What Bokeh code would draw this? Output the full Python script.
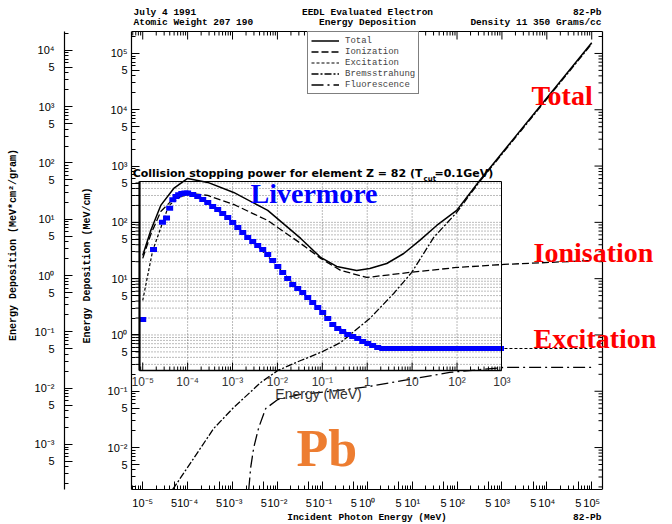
import numpy as np
from bokeh.plotting import figure
from bokeh.models import (Range1d, LogAxis, LogScale, FixedTicker, CustomJSTickFormatter,
                          Label, Legend, LegendItem)
from bokeh.core.properties import value
from bokeh.embed import file_html
from bokeh.resources import INLINE

# ---------------- data (energy in MeV, energy deposition in MeV/cm) ----------------
total_e = [1.0e-5, 1.51e-5, 2.52e-5, 4.9e-5, 1.0e-4, 2.81e-4, 1.06e-3, 6.08e-3, 3.3e-2, 9.2e-2,
           0.209, 0.583, 1.14, 2.72, 6.5, 14.8, 35.3, 98.4, 320, 1.0e5]
total_v = [25.8, 71.8, 200, 400, 603, 512, 340, 163, 51.8, 23.8,
           16.5, 14.0, 15.2, 18.6, 28.0, 47.8, 88.1, 163, 555, 1.55e5]

ion_e = [1.0e-5, 1.51e-5, 2.52e-5, 4.9e-5, 1.17e-4, 2.81e-4, 1.06e-3, 6.08e-3, 3.3e-2, 9.2e-2,
         0.257, 0.975, 8.85, 98.4, 1.1e3, 1.0e5]
ion_v = [22.9, 61.0, 156, 266, 326, 301, 208, 108, 42.2, 22.9,
         14.0, 10.5, 12.9, 15.8, 17.9, 21.0]

exc_e = [1.0e-5, 1.29e-5, 1.67e-5, 2.79e-5, 3.79e-5, 7.02e-5, 1.17e-4, 3.27e-4, 9.1e-4, 2.97e-3,
         8.3e-3, 2.83e-2, 7.9e-2, 0.18, 0.58, 1.2, 2.58, 940, 1.0e5]
exc_v = [4.10, 11.4, 31.7, 100, 200, 288, 313, 200, 108, 44,
         19.4, 6.7, 3.08, 1.48, 0.90, 0.65, 0.575, 0.575, 0.575]

brem_e = [4.66e-5, 3.81e-4, 1.06e-3, 4.25e-3, 1.02e-2, 3.3e-2, 9.2e-2, 0.257, 1.14, 3.89,
          9.8, 30.3, 98.4, 320, 1.0e5]
brem_v = [1.8e-3, 2.18e-2, 5.15e-2, 0.143, 0.234, 0.352, 0.489, 0.736, 1.96, 5.46,
          12.9, 54.0, 150, 532, 1.48e5]

fluor_e = [2.3e-3, 2.54e-3, 2.97e-3, 3.84e-3, 5.49e-3, 1.02e-2, 3.3e-2, 0.209, 1.14, 6.5,
           68.7, 1.1e3, 1.0e5]
fluor_v = [1.8e-3, 4.44e-3, 1.0e-2, 2.28e-2, 4.94e-2, 7.14e-2, 8.77e-2, 0.103, 0.122, 0.156,
           0.216, 0.265, 0.265]

# Livermore collision stopping power points (inset, blue)
liv_e = [1.0e-5, 1.74e-5, 2.75e-5, 3.39e-5, 3.98e-5, 4.68e-5, 5.5e-5, 6.31e-5, 7.41e-5, 8.71e-5,
         1.0e-4, 1.3e-4, 1.68e-4, 2.17e-4, 2.81e-4, 3.62e-4, 4.68e-4, 6.05e-4, 7.82e-4, 1.01e-3,
         1.31e-3, 1.69e-3, 2.18e-3, 2.82e-3, 3.64e-3, 4.71e-3, 6.08e-3, 7.85e-3, 1.02e-2, 1.31e-2,
         1.69e-2, 2.19e-2, 2.83e-2, 3.66e-2, 4.73e-2, 6.11e-2, 7.91e-2, 0.102, 0.132, 0.171,
         0.22, 0.284, 0.368, 0.475, 0.614, 0.794, 1.03, 1.32, 1.71, 2.21,
         2.8, 3.6, 4.6, 5.9, 7.6, 9.8, 12.6, 16.2, 20.9, 27,
         34.7, 44.7, 57.5, 74, 95, 122, 158, 203, 262, 337,
         434, 560, 720, 930]
liv_v = [1.88, 33, 100, 120, 178, 251, 288, 309, 324, 331,
         331, 313, 288, 255, 225, 191, 169, 144, 122, 99.5,
         81.1, 66.2, 54.0, 45.8, 38.9, 33.0, 26.9, 21.0, 16.5, 12.9,
         10.1, 7.89, 6.70, 5.69, 4.63, 3.78, 3.08, 2.51, 1.96, 1.54,
         1.30, 1.15, 1.02, 0.94, 0.867, 0.767, 0.706, 0.650, 0.600, 0.575,
         0.575, 0.575, 0.575, 0.575, 0.575, 0.575, 0.575, 0.575, 0.575, 0.575,
         0.575, 0.575, 0.575, 0.575, 0.575, 0.575, 0.575, 0.575, 0.575, 0.575,
         0.575, 0.575, 0.575, 0.575]

legend_labels = ["Total", "Ionization", "Excitation", "Bremsstrahung", "Fluorescence"]
inset_xtick_vals = [1e-5, 1e-4, 1e-3, 1e-2, 1e-1, 1, 10, 100, 1000]
inset_xtick_labels = ["10\u207b\u2075", "10\u207b\u2074", "10\u207b\u00b3", "10\u207b\u00b2",
                      "10\u207b\u00b9", "1", "10", "10\u00b2", "10\u00b3"]
DENSITY = 11.35  # g/cm3 -> outer axis in MeV*cm2/gram

# ---------------- layout geometry ----------------
W, H = 672, 524
FL, FR, FT, FB = 131, 602, 31, 489          # drawn main-plot box (pixels)
XL = (-5.25, 5.24)                          # log10 limits of the drawn box
YL = (-2.745, 5.39)
DXP = (XL[1] - XL[0]) / (FR - FL)
DYP = (YL[1] - YL[0]) / (FB - FT)
X_END = XL[0] + (W - FL) * DXP              # bokeh frame spans to the canvas right/top edge
Y_END = YL[1] + FT * DYP


def px2x(px):
    return 10 ** (XL[0] + (px - FL) * DXP)


def py2y(py):
    return 10 ** (YL[1] - (py - FT) * DYP)


p = figure(width=W, height=H, x_axis_type="log", y_axis_type="log",
           x_range=Range1d(10 ** XL[0], 10 ** X_END), y_range=Range1d(10 ** YL[0], 10 ** Y_END),
           output_backend="svg", toolbar_location=None,
           min_border_left=FL, min_border_right=0, min_border_top=0, min_border_bottom=H - FB)
p.xgrid.visible = False
p.ygrid.visible = False
p.outline_line_color = None
p.background_fill_color = "white"
p.border_fill_color = "white"


def log_ticks(lo, hi):
    major, allt = [], []
    for n in range(-9, 10):
        for k in range(1, 10):
            v = k * 10.0 ** n
            if lo * (1 - 1e-9) <= v <= hi * (1 + 1e-9):
                if k in (1, 5):
                    major.append(v)
                allt.append(v)
    return major, allt


FMT_CODE = """
const sup = {"-":"\u207b","0":"\u2070","1":"\u00b9","2":"\u00b2","3":"\u00b3","4":"\u2074",
             "5":"\u2075","6":"\u2076","7":"\u2077","8":"\u2078","9":"\u2079"};
const lg = Math.log10(tick);
const e = Math.round(lg);
if (Math.abs(lg - e) < 1e-6) {
  return "10" + String(e).split("").map((c) => sup[c]).join("");
}
return String(Math.round(tick / Math.pow(10, Math.floor(lg + 1e-9))));
"""


def style_axis(ax):
    ax.axis_line_color = "black"
    ax.axis_line_width = 1.2
    ax.major_tick_in = 8
    ax.major_tick_out = 0
    ax.minor_tick_in = 4
    ax.minor_tick_out = 0
    ax.major_tick_line_color = "black"
    ax.minor_tick_line_color = "black"
    ax.major_label_text_font = "Liberation Sans"
    ax.major_label_text_font_size = "11px"
    ax.major_label_text_color = "black"
    ax.axis_label_text_font = "Liberation Mono"
    ax.axis_label_text_font_style = "bold"
    ax.axis_label_text_font_size = "10px"
    ax.axis_label_text_color = "black"


xmaj, xall = log_ticks(10 ** XL[0], 10 ** XL[1])
ymaj, yall = log_ticks(10 ** YL[0], 10 ** YL[1])
omaj, oall = log_ticks(10 ** YL[0] / DENSITY, 10 ** YL[1] / DENSITY)

# bottom axis
bx = p.xaxis[0]
bx.ticker = FixedTicker(ticks=xmaj, minor_ticks=xall)
bx.formatter = CustomJSTickFormatter(code=FMT_CODE)
style_axis(bx)
bx.bounds = (10 ** XL[0], 10 ** XL[1])
bx.major_label_standoff = 7

# inner left axis
ly = p.yaxis[0]
ly.ticker = FixedTicker(ticks=ymaj, minor_ticks=yall)
ly.formatter = CustomJSTickFormatter(code=FMT_CODE)
style_axis(ly)
ly.bounds = (10 ** YL[0], 10 ** YL[1])
ly.major_label_standoff = 4

# labels living in the left side panel (between the two left axes)
p.add_layout(Label(x=px2x(87), y=py2y(265), text="Energy Deposition (MeV/cm)",
                   text_font="Liberation Mono", text_font_size="10px", text_font_style="bold",
                   text_color="black", text_align="center", text_baseline="middle",
                   angle=np.pi / 2), "left")
p.add_layout(Label(x=px2x(601), y=py2y(517), text="82-Pb", text_font="Liberation Mono",
                   text_font_size="9.5px", text_font_style="bold", text_color="black",
                   text_align="right", text_baseline="middle"), "left")

# outer left axis (MeV*cm2/gram)
p.extra_y_ranges = {"outer": Range1d(10 ** YL[0] / DENSITY, 10 ** Y_END / DENSITY)}
p.extra_y_scales = {"outer": LogScale()}
oy = LogAxis(y_range_name="outer", ticker=FixedTicker(ticks=omaj, minor_ticks=oall),
             formatter=CustomJSTickFormatter(code=FMT_CODE))
style_axis(oy)
oy.bounds = (10 ** YL[0] / DENSITY, 10 ** YL[1] / DENSITY)
oy.major_label_standoff = 10
oy.axis_label = "Energy Deposition (MeV*cm\u00b2/gram)"
oy.axis_label_standoff = 13
p.add_layout(oy, "left")

# x axis title as a label in the bottom panel
p.add_layout(Label(x=px2x(366.5), y=py2y(517), text="Incident Photon Energy (MeV)",
                   text_font="Liberation Mono", text_font_size="9.5px", text_font_style="bold",
                   text_color="black", text_align="center", text_baseline="middle"), "below")

# top and right edges of the drawn box, with inward ticks
X0, X1 = 10 ** XL[0], 10 ** XL[1]
Y0, Y1 = 10 ** YL[0], 10 ** YL[1]
p.segment(x0=[X0, X1], x1=[X1, X1], y0=[Y1, Y0], y1=[Y1, Y1], line_color="black", line_width=1.2)


def tick_len(v, big=8, small=4):
    lg = np.log10(v)
    return big if abs(lg - round(lg)) < 1e-6 else small


tx_len = [tick_len(v) for v in xall]
p.segment(x0=xall, x1=xall, y0=[Y1] * len(xall), y1=[Y1 / 10 ** (L * DYP) for L in tx_len],
          line_color="black", line_width=1)
ty_len = [tick_len(v) for v in yall]
p.segment(x0=[X1] * len(yall), x1=[X1 / 10 ** (L * DXP) for L in ty_len], y0=yall, y1=yall,
          line_color="black", line_width=1)

# ---------------- inset (collision stopping power) ----------------
IN_L, IN_R = px2x(139), px2x(501)
IN_T, IN_B = py2y(181), py2y(370)
_, grid_y = log_ticks(IN_B, IN_T)
grid_x = [v for v in inset_xtick_vals[1:-1]]
p.segment(x0=[IN_L] * len(grid_y), x1=[IN_R] * len(grid_y), y0=grid_y, y1=grid_y,
          line_color="#555555", line_width=0.8, line_dash="1 2")
p.segment(x0=grid_x, x1=grid_x, y0=[IN_B] * len(grid_x), y1=[IN_T] * len(grid_x),
          line_color="#555555", line_width=0.8, line_dash="1 2")

# ---------------- main curves ----------------
r_tot = p.line(total_e, total_v, line_color="black", line_width=1.5)
r_ion = p.line(ion_e, ion_v, line_color="black", line_width=1.3, line_dash="7 3")
r_exc = p.line(exc_e, exc_v, line_color="black", line_width=1.2, line_dash="3 2")
r_brem = p.line(brem_e, brem_v, line_color="black", line_width=1.3, line_dash="7 2 2 2")
r_fl = p.line(fluor_e, fluor_v, line_color="black", line_width=1.3, line_dash="12 4 2 4")

# Livermore points
p.rect(x=liv_e, y=liv_v, width=7, height=5, width_units="screen", height_units="screen",
       fill_color="#0000ff", line_color=None)

# inset frame and ticks
p.quad(left=[IN_L], right=[IN_R], bottom=[IN_B], top=[IN_T], fill_color=None,
       line_color="black", line_width=1)
p.segment(x0=[IN_L], x1=[IN_L], y0=[IN_B], y1=[IN_T], line_color="black", line_width=2.2)
p.segment(x0=[IN_L], x1=[IN_R], y0=[IN_B], y1=[IN_B], line_color="black", line_width=1.6)
_, ix_all = log_ticks(IN_L, IN_R)
ix_len = [tick_len(v) for v in ix_all]
p.segment(x0=ix_all, x1=ix_all, y0=[IN_B] * len(ix_all),
          y1=[IN_B * 10 ** (L * DYP) for L in ix_len], line_color="black", line_width=1)
_, iy_all = log_ticks(IN_B, IN_T)
iy_len = [tick_len(v) for v in iy_all]
p.segment(x0=[IN_L] * len(iy_all), x1=[IN_L / 10 ** (L * DXP) for L in iy_len], y0=iy_all, y1=iy_all,
          line_color="black", line_width=1)
p.text(x=inset_xtick_vals, y=[py2y(381)] * len(inset_xtick_vals), text=inset_xtick_labels,
       text_align="center", text_baseline="middle", text_font=value("Liberation Sans"),
       text_font_size=value("12px"), text_color="#333333")

# ---------------- legend ----------------
legend = Legend(items=[LegendItem(label=l, renderers=[r]) for l, r in
                       zip(legend_labels, [r_tot, r_ion, r_exc, r_brem, r_fl])],
                location=(176, 395))
legend.label_text_font = "Liberation Mono"
legend.label_text_font_size = "9px"
legend.glyph_width = 28
legend.glyph_height = 11
legend.label_height = 11
legend.spacing = 0
legend.padding = 3
legend.margin = 0
legend.label_standoff = 6
legend.border_line_color = "black"
legend.border_line_width = 1
legend.background_fill_color = "white"
legend.background_fill_alpha = 1
p.add_layout(legend)


# ---------------- texts ----------------
def add_label(text, px, py, size, color="black", font="Liberation Mono", style="bold",
              align="left", baseline="middle"):
    p.add_layout(Label(x=px2x(px), y=py2y(py), text=text, text_font=font,
                       text_font_size=f"{size}px", text_font_style=style, text_color=color,
                       text_align=align, text_baseline=baseline))


add_label("July 4  1991", 133, 12, 9.5)
add_label("Atomic Weight 207 190", 133, 22, 9.5)
add_label("EEDL Evaluated Electron", 367, 12, 9.5, align="center")
add_label("Energy Deposition", 367, 22, 9.5, align="center")
add_label("82-Pb", 601, 12, 9.5, align="right")
add_label("Density 11 350 Grams/cc", 601, 22, 9.5, align="right")

add_label("Collision stopping power for element Z = 82 (T", 422, 173, 11,
          font="DejaVu Sans", align="right")
add_label("cut", 423, 178, 7, font="DejaVu Sans")
add_label("=0.1GeV)", 434, 173, 11, font="DejaVu Sans")
add_label("Energy (MeV)", 318, 393, 14, color="#333333", font="Liberation Sans", style="normal",
          align="center")

add_label("Total", 531, 95, 28, color="#ff0000", font="Liberation Serif", baseline="alphabetic")
add_label("Ionisation", 533, 252, 28, color="#ff0000", font="Liberation Serif", baseline="alphabetic")
add_label("Excitation", 533, 338, 28, color="#ff0000", font="Liberation Serif", baseline="alphabetic")
add_label("Livermore", 250, 193, 28, color="#0000ff", font="Liberation Serif", baseline="alphabetic")
add_label("Pb", 296, 448, 52, color="#ed7d31", font="Liberation Serif", baseline="alphabetic")

open("out.html", "w").write(file_html(p, INLINE))
